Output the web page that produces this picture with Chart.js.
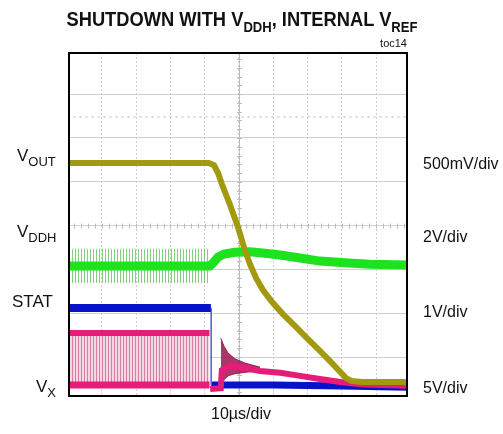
<!doctype html>
<html>

<head>
    <title>Shutdown with VDDH</title>
    <script src="https://cdn.jsdelivr.net/npm/chart.js"></script>
    <style>
        body { margin: 0; background: #fff; }
        #wrap { position: relative; width: 503px; height: 434px; }
        #wrap canvas, #wrap svg { position: absolute; left: 0; top: 0; }
        svg text { font-family: "Liberation Sans", Arial, sans-serif; fill: #111; }
    </style>
</head>

<body>
    <div id="wrap">
        <canvas id="scope" width="503" height="434"></canvas>
        <svg width="503" height="434">
            <text x="242" y="26" font-size="21" font-weight="bold" text-anchor="middle" textLength="351" lengthAdjust="spacingAndGlyphs"
                style="font-family: 'Liberation Sans Narrow', 'Arial Narrow', 'Liberation Sans', sans-serif">SHUTDOWN WITH V<tspan font-size="15" dy="6">DDH</tspan><tspan dy="-6">, INTERNAL V</tspan><tspan font-size="15" dy="6">REF</tspan></text>
            <text x="407" y="47" font-size="11" text-anchor="end">toc14</text>

            <text x="17" y="161" font-size="17">V<tspan font-size="13" dy="5">OUT</tspan></text>
            <text x="17" y="237" font-size="17">V<tspan font-size="13" dy="5">DDH</tspan></text>
            <text x="12" y="307" font-size="17">STAT</text>
            <text x="36" y="392" font-size="17">V<tspan font-size="13" dy="5">X</tspan></text>

            <text x="423" y="169" font-size="16">500mV/div</text>
            <text x="423" y="242" font-size="16">2V/div</text>
            <text x="423" y="317" font-size="16">1V/div</text>
            <text x="423" y="393" font-size="16">5V/div</text>

            <text x="241" y="419" font-size="16" text-anchor="middle">10µs/div</text>
        </svg>
    </div>

    <script>
        // time in us (10us/div), level in screen divisions (8 div tall)
        var xTicks = [10, 20, 30, 40, 50, 60, 70, 80, 90];
        var yTicks = [1, 2, 3, 4, 5, 6, 7];

        var voutT = [0, 41.2, 42.7, 43.9, 45.0, 47.4, 49.7, 51.5, 53.2, 55.0, 57.0, 59.6, 62.8, 66.3, 70.1, 73.6, 77.1, 79.5, 81.2, 82.9, 85.9, 100];
        var voutY = [5.43, 5.43, 5.38, 5.20, 4.95, 4.47, 3.97, 3.49, 3.12, 2.80, 2.53, 2.26, 1.98, 1.71, 1.41, 1.14, 0.86, 0.66, 0.52, 0.45, 0.43, 0.43];

        var vddhT = [0, 41.5, 42.7, 43.9, 45.6, 48.8, 53.2, 57.6, 62.0, 67.8, 73.6, 80.9, 88.2, 100];
        var vddhY = [3.08, 3.08, 3.17, 3.28, 3.35, 3.39, 3.40, 3.37, 3.33, 3.26, 3.19, 3.15, 3.12, 3.10];
        var spikeT = [0, 41.5];
        var spikeHi = [3.47, 3.47];
        var spikeLo = [2.69, 2.69];

        var statHiT = [0, 41.8];
        var statHiY = [2.12, 2.12];
        var statEdgeT = [41.9, 41.9];
        var statEdgeY = [2.12, 0.36];
        var statLoT = [41.9, 60, 80, 100];
        var statLoY = [0.36, 0.36, 0.34, 0.31];

        var vxSwT = [0, 41.4];
        var vxSwHi = [1.55, 1.55];
        var vxSwLo = [0.36, 0.36];
        var vxT = [41.6, 44.7, 45.0, 47.4, 51.8, 56.1, 62.0, 67.8, 73.6, 79.5, 85.3, 100];
        var vxY = [0.27, 0.29, 0.70, 0.80, 0.75, 0.68, 0.64, 0.57, 0.50, 0.43, 0.38, 0.34];
        var ringT = [44.7, 45.6, 46.8, 48.8, 51.8, 56.1];
        var ringHi = [1.43, 1.25, 1.09, 0.96, 0.86, 0.77];
        var ringLo = [0.30, 0.48, 0.57, 0.62, 0.65, 0.68];

        var markerT = [0, 100];
        var markerY = [6.48, 6.48];

        function pts(ts, ys) {
            return ts.map((t, i) => ({ x: t, y: ys[i] }));
        }

        function stripes(line, gap) {
            var c = document.createElement('canvas');
            c.width = 3;
            c.height = 1;
            var g = c.getContext('2d');
            g.fillStyle = gap;
            g.fillRect(0, 0, 3, 1);
            g.fillStyle = line;
            g.fillRect(0, 0, 1, 1);
            return g.createPattern(c, 'repeat');
        }

        function trace(data, color, width, order, extra) {
            return Object.assign({
                data: data,
                borderColor: color,
                borderWidth: width,
                order: order,
                clip: 0,
                fill: false,
                pointRadius: 0
            }, extra || {});
        }

        var scopeFrame = {
            id: 'scopeFrame',
            beforeDatasetsDraw(chart) {
                var ctx = chart.ctx, x = chart.scales.x, y = chart.scales.y, a = chart.chartArea;
                var cx = x.getPixelForValue(50), cy = y.getPixelForValue(4);
                ctx.save();
                ctx.strokeStyle = '#bdbdbd';
                ctx.lineWidth = 1;
                ctx.beginPath();
                ctx.moveTo(Math.round(cx) + 0.5, a.top);
                ctx.lineTo(Math.round(cx) + 0.5, a.bottom);
                for (var v = 0.2; v < 8; v += 0.2) {
                    var p = Math.round(y.getPixelForValue(v)) + 0.5;
                    ctx.moveTo(cx - 2, p);
                    ctx.lineTo(cx + 3, p);
                }
                for (var t = 2; t < 100; t += 2) {
                    var q = Math.round(x.getPixelForValue(t)) + 0.5;
                    ctx.moveTo(q, cy - 2);
                    ctx.lineTo(q, cy + 3);
                }
                ctx.stroke();
                ctx.restore();
            },
            afterDraw(chart) {
                var ctx = chart.ctx, a = chart.chartArea;
                ctx.save();
                ctx.strokeStyle = '#000';
                ctx.lineWidth = 2;
                ctx.strokeRect(a.left, a.top, a.right - a.left, a.bottom - a.top);
                ctx.restore();
            }
        };

        var scope = new Chart(document.getElementById('scope').getContext('2d'), {
            type: 'line',
            data: {
                datasets: [
                    trace(pts(voutT, voutY), '#a29a0e', 6, 0),
                    trace(pts(vxT, vxY), '#e61c78', 6, 1),
                    trace(pts(ringT, ringHi), 'rgba(150,15,75,0.9)', 1, 2, { fill: '+1', backgroundColor: 'rgba(158,20,80,0.85)' }),
                    trace(pts(ringT, ringLo), 'rgba(150,15,75,0.9)', 1, 1.5),
                    trace(pts(vxSwT, vxSwHi), '#e61c78', 6, 3, { fill: '+1', backgroundColor: stripes('#d47ca2', '#f3d8e3') }),
                    trace(pts(vxSwT, vxSwLo), '#e61c78', 7, 2.5),
                    trace(pts(statHiT, statHiY), '#0812c8', 8, 4),
                    trace(pts(statEdgeT, statEdgeY), '#5a66d8', 1, 4),
                    trace(pts(statLoT, statLoY), '#0812c8', 7, 5),
                    trace(pts(vddhT, vddhY), '#1ee21e', 9, 6),
                    trace(pts(spikeT, spikeHi), 'rgba(0,0,0,0)', 0, 7, { fill: '+1', backgroundColor: stripes('rgba(90,190,90,0.75)', 'rgba(255,255,255,0)') }),
                    trace(pts(spikeT, spikeLo), 'rgba(0,0,0,0)', 0, 7),
                    trace(pts(markerT, markerY), '#b0b0b0', 1, 8, { borderDash: [2, 4] })
                ]
            },
            options: {
                responsive: false,
                animation: false,
                devicePixelRatio: 1,
                layout: {
                    padding: { left: 69, right: 96, top: 53, bottom: 38 }
                },
                plugins: {
                    legend: { display: false },
                    tooltip: { enabled: false }
                },
                scales: {
                    x: {
                        type: 'linear',
                        min: 0.44,
                        max: 98.98,
                        afterBuildTicks: s => { s.ticks = xTicks.map(v => ({ value: v })); },
                        ticks: { display: false },
                        grid: { color: '#cfcfcf', drawTicks: false },
                        border: { display: false, dash: [2, 2] }
                    },
                    y: {
                        type: 'linear',
                        min: 0.11,
                        max: 7.94,
                        afterBuildTicks: s => { s.ticks = yTicks.map(v => ({ value: v })); },
                        ticks: { display: false },
                        grid: { color: '#cfcfcf', drawTicks: false },
                        border: { display: false }
                    }
                }
            },
            plugins: [scopeFrame]
        });
    </script>
</body>

</html>
